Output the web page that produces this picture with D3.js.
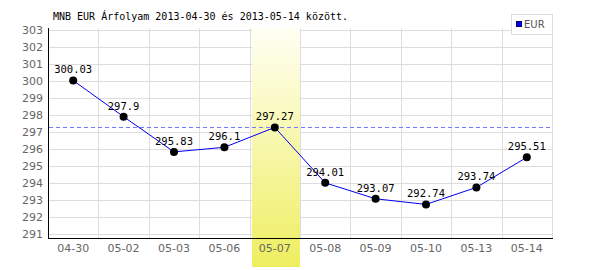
<html>
<head>
    <script src="https://cdn.jsdelivr.net/npm/d3@7"></script>
    <style>
        body { margin: 0; background: #fff; }
    </style>
</head>
<body>
    <script>
        var dates = ["04-30", "05-02", "05-03", "05-06", "05-07", "05-08", "05-09", "05-10", "05-13", "05-14"];
        var rates = [300.03, 297.9, 295.83, 296.1, 297.27, 294.01, 293.07, 292.74, 293.74, 295.51];
        var labels = ["300.03", "297.9", "295.83", "296.1", "297.27", "294.01", "293.07", "292.74", "293.74", "295.51"];
        var yTicks = [291, 292, 293, 294, 295, 296, 297, 298, 299, 300, 301, 302, 303];
        var highlight = "05-07";
        var refValue = 297.27;

        var width = 600, height = 270;
        var plotLeft = 48, plotRight = 552, plotTop = 28, plotBottom = 238;

        var svg = d3.select("body").append("svg").attr("width", width).attr("height", height)
            .style("font-family", "'DejaVu Sans Mono', monospace");

        var x = d3.scaleBand().domain(dates).range([plotLeft, plotRight]);
        var y = d3.scaleLinear().domain([291, 303]).range([234, 30]);

        // gradient for the highlighted day
        var grad = svg.append("defs").append("linearGradient").attr("id", "hl")
            .attr("x1", 0).attr("y1", 0).attr("x2", 0).attr("y2", 1);
        grad.append("stop").attr("offset", "0%").attr("stop-color", "#fffff4");
        grad.append("stop").attr("offset", "100%").attr("stop-color", "#eeee60");

        // grid
        svg.append("g").selectAll("line").data(yTicks).enter().append("line")
            .attr("x1", plotLeft).attr("x2", plotRight)
            .attr("y1", function(d) { return y(d) + 0.5; }).attr("y2", function(d) { return y(d) + 0.5; })
            .attr("stroke", "#dddddd");
        svg.append("g").selectAll("line").data(dates).enter().append("line")
            .attr("x1", function(d) { return Math.round(x(d) + x.bandwidth()) + 0.5; })
            .attr("x2", function(d) { return Math.round(x(d) + x.bandwidth()) + 0.5; })
            .attr("y1", plotTop).attr("y2", plotBottom)
            .attr("stroke", "#dddddd");

        // highlight band
        svg.append("rect")
            .attr("x", Math.round(x(highlight)) + 2).attr("y", plotTop)
            .attr("width", Math.round(x.bandwidth()) - 2).attr("height", 267 - plotTop)
            .attr("fill", "url(#hl)");

        // axes
        svg.append("line").attr("x1", plotLeft + 0.5).attr("x2", plotLeft + 0.5).attr("y1", plotTop).attr("y2", plotBottom + 1)
            .attr("stroke", "#000");
        svg.append("line").attr("x1", plotLeft).attr("x2", plotRight + 1).attr("y1", plotBottom + 0.5).attr("y2", plotBottom + 0.5)
            .attr("stroke", "#000");

        // tick labels
        svg.append("g").selectAll("text").data(yTicks).enter().append("text")
            .attr("x", 43).attr("y", function(d) { return y(d) + 4; })
            .attr("text-anchor", "end").attr("font-size", "11px")
            .style("font-family", "'DejaVu Sans', sans-serif")
            .attr("fill", "#666").text(function(d) { return d; });
        svg.append("g").selectAll("text").data(dates).enter().append("text")
            .attr("x", function(d) { return x(d) + x.bandwidth() / 2; }).attr("y", 252)
            .attr("text-anchor", "middle").attr("font-size", "11px")
            .style("font-family", "'DejaVu Sans', sans-serif")
            .attr("fill", "#666").text(function(d) { return d; });

        // reference dashed line
        svg.append("line").attr("x1", plotLeft + 1).attr("x2", plotRight)
            .attr("y1", Math.round(y(refValue)) + 0.5).attr("y2", Math.round(y(refValue)) + 0.5)
            .attr("stroke", "#7777ff").attr("stroke-dasharray", "4,3");

        // the series
        var line = d3.line()
            .x(function(d, i) { return x(dates[i]) + x.bandwidth() / 2; })
            .y(function(d) { return y(d); });
        svg.append("path").datum(rates).attr("d", line)
            .attr("fill", "none").attr("stroke", "#0000ee").attr("stroke-width", 1);

        svg.append("g").selectAll("circle").data(rates).enter().append("circle")
            .attr("cx", function(d, i) { return x(dates[i]) + x.bandwidth() / 2; })
            .attr("cy", function(d) { return y(d); })
            .attr("r", 4).attr("fill", "#000");

        svg.append("g").selectAll("text").data(rates).enter().append("text")
            .attr("x", function(d, i) { return x(dates[i]) + x.bandwidth() / 2; })
            .attr("y", function(d) { return y(d) - 7; })
            .attr("text-anchor", "middle").attr("font-size", "10.5px").attr("fill", "#000")
            .text(function(d, i) { return labels[i]; });

        // title
        svg.append("text").attr("x", 53).attr("y", 20).attr("font-size", "10px").attr("fill", "#000")
            .text("MNB EUR Árfolyam 2013-04-30 és 2013-05-14 között.");

        // legend
        svg.append("rect").attr("x", 511.5).attr("y", 14.5).attr("width", 41).attr("height", 20)
            .attr("fill", "#fff").attr("stroke", "#dddddd");
        svg.append("rect").attr("x", 516.5).attr("y", 21.5).attr("width", 5).attr("height", 5)
            .attr("fill", "#0000ff").attr("stroke", "#000066");
        svg.append("text").attr("x", 524).attr("y", 28).attr("font-size", "10px")
            .style("font-family", "'DejaVu Sans', sans-serif")
            .attr("fill", "#555").text("EUR");
    </script>
</body>
</html>
